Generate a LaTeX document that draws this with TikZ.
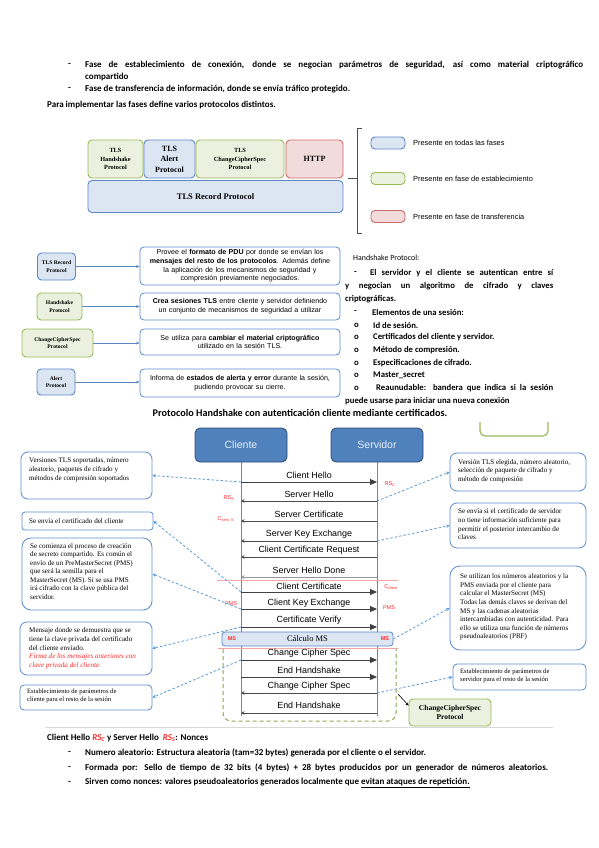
\documentclass[tikz,border=0pt]{standalone}
\usepackage{fontspec}
\setmainfont{Carlito}
\newfontfamily\arialf{Liberation Sans}
\newfontfamily\tnrf{Liberation Serif}
\usetikzlibrary{arrows.meta}
\newcommand\myfs[2]{\fontsize{#1}{#2}\selectfont}
\definecolor{bfill}{HTML}{DCE6F2}
\definecolor{bdraw}{HTML}{5B87C5}
\definecolor{gfill}{HTML}{EBF1DE}
\definecolor{gdraw}{HTML}{9BBB59}
\definecolor{rfill}{HTML}{F2DCDB}
\definecolor{rdraw}{HTML}{CF6A6A}
\definecolor{hdfill}{HTML}{4F81BD}
\definecolor{hddraw}{HTML}{2F4B73}
\definecolor{cblue}{HTML}{5B8BD0}
\definecolor{dblue}{HTML}{5B9BD5}
\definecolor{redline}{HTML}{F4A6A6}
\definecolor{gdash}{HTML}{8BA84A}
\definecolor{redtxt}{HTML}{FF2A2A}
\definecolor{lifegray}{HTML}{808080}
\begin{document}
\begin{tikzpicture}[x=1pt,y=-1pt,
  btxt/.style={anchor=west,inner sep=0pt,font=\bfseries\myfs{9}{11}},
  rtxt/.style={anchor=west,inner sep=0pt,font=\bfseries\myfs{8.7}{11}},
  bbox/.style={draw=bdraw,fill=bfill,rounded corners=4pt,line width=0.9pt,inner sep=1pt,align=center},
  gbox/.style={draw=gdraw,fill=gfill,rounded corners=4pt,line width=0.9pt,inner sep=1pt,align=center},
  rbox/.style={draw=rdraw,fill=rfill,rounded corners=4pt,line width=0.9pt,inner sep=1pt,align=center},
  desc/.style={draw=cblue,fill=white,rounded corners=4pt,line width=0.8pt,inner sep=1pt,align=center,
     text width=198pt,font=\arialf\myfs{7.1}{8.7}},
  stk/.style={font=\tnrf\bfseries\myfs{6.3}{8.6}},
  small/.style={font=\tnrf\bfseries\myfs{5.6}{7.5}},
  legtxt/.style={anchor=west,inner sep=0pt,font=\arialf\myfs{7.4}{8}},
  arr/.style={draw=bdraw,line width=0.6pt,-{Stealth[length=3.5pt,width=3pt]}},
  hd/.style={draw=hddraw,fill=hdfill,rounded corners=5pt,line width=0.8pt,text=white!88!hdfill,
     minimum width=92pt,minimum height=34pt,font=\arialf\myfs{10.5}{12}},
  life/.style={draw=lifegray,line width=1pt},
  msgR/.style={draw=black!75,line width=0.9pt,-{Triangle[length=7pt,width=6pt]}},
  msgL/.style={draw=black!70,line width=0.9pt,-{Stealth[length=3.5pt,width=3.5pt]}},
  mlab/.style={inner sep=0pt,font=\arialf\myfs{8.9}{10}},
  rlab/.style={inner sep=0pt,text=redtxt,font=\arialf\myfs{5.5}{6}},
  call/.style={draw=cblue,fill=white,rounded corners=7pt,line width=0.8pt},
  ctxt/.style={anchor=north west,inner sep=0pt,align=left,font=\tnrf\myfs{7.1}{8.7}},
  dasharr/.style={draw=dblue,line width=0.8pt,dash pattern=on 2.5pt off 2pt,-{Stealth[length=3.5pt,width=3.5pt]}},
  redl/.style={draw=redline,line width=0.6pt}
]
\useasboundingbox[fill=white] (0,0) rectangle (599,848);

% ---------------- top text
\node[btxt] (d1a) at (68,65) {-};
\node[btxt] (t1) at (85,65) {\makebox[498pt][s]{Fase de establecimiento de conexión, donde se negocian parámetros de seguridad, así como material criptográfico}};
\node[btxt] (t2) at (85,77) {compartido};
\node[btxt] (d1b) at (68,89) {-};
\node[btxt] (t3) at (85,89) {Fase de transferencia de información, donde se envía tráfico protegido.};
\node[btxt] (t4) at (47,105) {Para implementar las fases define varios protocolos distintos.};

% ---------------- protocol stack
\node[gbox,stk,minimum width=55pt,minimum height=38pt] (hsp) at (115.5,159) {TLS\\Handshake\\Protocol};
\node[bbox,font=\tnrf\bfseries\myfs{8}{10.5},minimum width=51pt,minimum height=38pt] (alp) at (169.5,159) {TLS\\Alert\\Protocol};
\node[gbox,stk,minimum width=88pt,minimum height=38pt] (ccp) at (240,159) {TLS\\ChangeCipherSpec\\Protocol};
\node[rbox,font=\tnrf\bfseries\myfs{8}{10},minimum width=57pt,minimum height=38pt] (http) at (314.5,159) {HTTP};
\node[bbox,font=\tnrf\bfseries\myfs{8.5}{10},minimum width=255pt,minimum height=32pt] (rec) at (215.5,196.5) {TLS Record Protocol};
\coordinate (brt) at (362,128);
\coordinate (brb) at (362,233);
\coordinate (brm) at (348,178);
\draw[black!70,line width=0.6pt] (brt) -- (357,128) -- (357,233) -- (brb);
\draw[black!70,line width=0.6pt] (brm) -- (357,178);

% legend
\node[bbox,minimum width=34pt,minimum height=12pt] (lg1) at (388,143) {};
\node[legtxt] (lt1) at (413,143) {Presente en todas las fases};
\node[gbox,minimum width=34pt,minimum height=12pt] (lg2) at (388,178.5) {};
\node[legtxt] (lt2) at (413,178.5) {Presente en fase de establecimiento};
\node[rbox,minimum width=34pt,minimum height=12pt] (lg3) at (388,216.5) {};
\node[legtxt] (lt3) at (413,216.5) {Presente en fase de transferencia};

% ---------------- protocol descriptions
\node[bbox,small,minimum width=38pt,minimum height=27pt] (rec2) at (56.5,266.5) {TLS Record\\Protocol};
\node[gbox,small,minimum width=45pt,minimum height=27pt] (hs2) at (59.5,306.5) {Handshake\\Protocol};
\node[gbox,small,minimum width=71pt,minimum height=28pt] (cc2) at (57.5,343) {ChangeCipherSpec\\Protocol};
\node[bbox,small,minimum width=38pt,minimum height=26pt] (al2) at (56,382) {Alert\\Protocol};

\node[desc,minimum width=200pt,minimum height=38pt] (de1) at (240,266) {Provee el \textbf{formato de PDU} por donde se envían los\\\textbf{mensajes del resto de los protocolos}. Además define\\la aplicación de los mecanismos de seguridad y\\compresión previamente negociados.};
\node[desc,minimum width=200pt,minimum height=27pt] (de2) at (240,306.5) {\textbf{Crea sesiones TLS} entre cliente y servidor definiendo\\un conjunto de mecanismos de seguridad a utilizar};
\node[desc,minimum width=200pt,minimum height=26pt] (de3) at (240,342) {Se utiliza para \textbf{cambiar el material criptográfico}\\utilizado en la sesión TLS.};
\node[desc,minimum width=200pt,minimum height=28pt] (de4) at (240,383) {Informa de \textbf{estados de alerta y error} durante la sesión,\\pudiendo provocar su cierre.};
\draw[arr] (rec2.east) -- (rec2.east -| de1.west);
\draw[arr] (hs2.east) -- (hs2.east -| de2.west);
\draw[arr] (cc2.east) -- (cc2.east -| de3.west);
\draw[arr] (al2.east) -- (al2.east -| de4.west);

% right text
\node[anchor=west,inner sep=0pt,font=\myfs{7.9}{10}] (hp) at (353,258) {Handshake Protocol:};
\node[rtxt] (m1) at (354,273) {-};
\node[rtxt] (r1) at (370,273) {\makebox[183pt][s]{El servidor y el cliente se autentican entre sí}};
\node[rtxt] (r2) at (345,286) {\makebox[208pt][s]{y negocian un algoritmo de cifrado y claves}};
\node[rtxt] (r3) at (345,299) {criptográficas.};
\node[rtxt] (m2) at (354,312) {-};
\node[rtxt] (r4) at (372,312) {Elementos de una sesión:};
\node[rtxt] (o1) at (354,325) {o};
\node[rtxt] (r5) at (373,325) {Id de sesión.};
\node[rtxt] (o2) at (354,337.5) {o};
\node[rtxt] (r6) at (373,337.5) {Certificados del cliente y servidor.};
\node[rtxt] (o3) at (354,350) {o};
\node[rtxt] (r7) at (373,350) {Método de compresión.};
\node[rtxt] (o4) at (354,363) {o};
\node[rtxt] (r8) at (373,363) {Especificaciones de cifrado.};
\node[rtxt] (o5) at (354,375.5) {o};
\node[rtxt] (r9) at (373,375.5) {Master\_secret};
\node[rtxt] (o6) at (354,388) {o};
\node[rtxt] (r10) at (376,388) {\makebox[177pt][s]{Reaunudable: bandera que indica si la sesión}};
\node[rtxt] (r11) at (345,401) {puede usarse para iniciar una nueva conexión};

% title
\node[inner sep=0pt,font=\bfseries\myfs{10.2}{12}] (ttl) at (300,413) {Protocolo Handshake con autenticación cliente mediante certificados.};
\draw[gdraw,line width=1.2pt,rounded corners=5pt] (480,422) -- (480,436) -- (548,436) -- (548,422);

% ---------------- sequence diagram
\node[hd] (cli) at (241,445) {Cliente};
\node[hd] (srv) at (377,445) {Servidor};
\coordinate (cend) at (241,716);
\coordinate (send) at (377,716);
\draw[life] (cli.south) -- (cend);
\draw[life] (srv.south) -- (send);

\draw[redl] (217,580) -- (398,580);
\draw[redl] (218,648) -- (398,648);
\draw[gdash,line width=1pt,dash pattern=on 4pt off 3pt,rounded corners=8pt] (223,649) -- (223,721) -- (396,721) -- (396,649);

\foreach \n/\ya/\yl/\t/\d in {1/482/475/Client Hello/R,2/501/494.5/Server Hello/L,3/521/514/Server Certificate/L,
  4/541/534/Server Key Exchange/L,5/557/550.5/Client Certificate Request/L,6/577/570/Server Hello Done/L,
  7/592/586/Client Certificate/R,8/609/603/Client Key Exchange/R,9/627/620/Certificate Verify/R,
  10/660/653/Change Cipher Spec/R,11/677/670/End Handshake/R,12/693/686/Change Cipher Spec/L,13/713/705/End Handshake/L}{
  \coordinate (c\n) at (241,\ya);
  \coordinate (s\n) at (377,\ya);
  \node[mlab] (lab\n) at (309,\yl) {\t};
}
\foreach \n in {1,7,8,9,10,11}{\draw[msgR] (c\n) -- (s\n);}
\foreach \n in {2,3,4,5,12,13}{\draw[msgL] (s\n) -- (c\n);}
\draw[msgL,draw=black!40] (s6) -- (c6);

\node[bbox,font=\tnrf\myfs{8.5}{9},minimum width=171pt,minimum height=14pt,rounded corners=3pt,line width=0.8pt] (ms) at (307.5,639) {Cálculo MS};
\node[rlab,font=\arialf\bfseries\myfs{5.5}{6}] (msl) at (232,639) {MS};
\node[rlab,font=\arialf\bfseries\myfs{5.5}{6}] (msr) at (385,639) {MS};

\node[rlab] (rsc) at (390,484) {RS\textsubscript{C}};
\node[rlab] (rss) at (229,498) {RS\textsubscript{S}};
\node[rlab] (cse) at (226,519) {C\textsubscript{serv. S}};
\node[rlab] (ccl) at (391,587) {C\textsubscript{client}};
\node[rlab] (pm1) at (231,604) {PMS};
\node[rlab] (pm2) at (389,608) {PMS};

\node[gbox,font=\tnrf\bfseries\myfs{7.5}{9},minimum width=82pt,minimum height=27pt] (ccs3) at (450,712.5) {ChangeCipherSpec\\Protocol};
\coordinate (gc) at (398,694);
\draw[black,line width=0.6pt,-{Stealth[length=3pt,width=3pt]}] (gc) -- ([yshift=-7pt]ccs3.north west);

% left callouts
\node[call,minimum width=131pt,minimum height=47pt] (L1) at (86.5,475.5) {};
\node[ctxt] (L1t) at (29,457.5) {Versiones TLS soportadas, número\\aleatorio, paquetes de cifrado y\\métodos de compresión soportados};
\node[call,rounded corners=3pt,minimum width=131pt,minimum height=18pt] (L2) at (87.5,521) {};
\node[ctxt,anchor=west] (L2t) at (29,521) {Se envía el certificado del cliente};
\node[call,rounded corners=9pt,minimum width=130pt,minimum height=72pt] (L3) at (87,574) {};
\node[ctxt,font=\tnrf\myfs{7.1}{8.5}] (L3t) at (30,543) {Se comienza el proceso de creación\\de secreto compartido. Es común el\\envío de un PreMasterSecret (PMS)\\que será la semilla para el\\MasterSecret (MS). Si se usa PMS\\irá cifrado con la clave pública del\\servidor.};
\node[call,minimum width=132pt,minimum height=53pt] (L4) at (86,648.5) {};
\node[ctxt] (L4t) at (29,627.5) {Mensaje donde se demuestra que se\\tiene la clave privada del certificado\\del cliente enviado.\\\textcolor{redtxt}{\itshape Firma de los mensajes anteriores con}\\\textcolor{redtxt}{\itshape clave privada del cliente.}};
\node[call,rounded corners=4pt,minimum width=132pt,minimum height=25pt] (L5) at (86,697.5) {};
\node[ctxt,font=\tnrf\myfs{6.6}{8}] (L5t) at (27,689) {Establecimiento de parámetros de\\cliente para el resto de la sesión};

\draw[dasharr] (c1) -- (L1.east);
\draw[dasharr] (c7) -- (L2.east);
\draw[dasharr] (c8) -- (L3.east);
\draw[dasharr] (c9) -- (L4.east);
\draw[dasharr] (c10) -- (L5.east);

% right callouts
\node[call,minimum width=136pt,minimum height=38pt] (R1) at (518,472) {};
\node[ctxt] (R1t) at (458,459) {Versión TLS elegida, número aleatorio,\\selección de paquete de cifrado y\\método de compresión};
\node[call,minimum width=136pt,minimum height=45pt] (R2) at (518,525.5) {};
\node[ctxt] (R2t) at (458,508.5) {Se envía si el certificado de servidor\\no tiene información suficiente para\\permitir el posterior intercambio de\\claves};
\node[call,rounded corners=10pt,minimum width=136pt,minimum height=84pt] (R3) at (518,608) {};
\node[ctxt,font=\tnrf\myfs{7.1}{8.6}] (R3t) at (460,573.5) {Se utilizan los números aleatorios y la\\PMS enviada por el cliente para\\calcular el MasterSecret (MS)\\Todas las demás claves se derivan del\\MS y las cadenas aleatorias\\intercambiadas con autenticidad. Para\\ello se utiliza una función de números\\pseudoaleatorios (PRF)};
\node[call,rounded corners=4pt,minimum width=133pt,minimum height=26pt] (R4) at (519.5,677) {};
\node[ctxt,font=\tnrf\myfs{6.6}{8}] (R4t) at (460,668.5) {Establecimiento de parámetros de\\servidor para el resto de la sesión};

\draw[dasharr] (s2) -- (R1.west);
\draw[dasharr] (s4) -- (R2.west);
\draw[dasharr] (ms.east) -- (R3.west);
\draw[dasharr] (s12) -- (R4.west);

% ---------------- bottom text
\coordinate (sepa) at (45,727);
\coordinate (sepb) at (553,727);
\draw[black!15,line width=0.6pt] (sepa) -- (sepb);
\node[btxt] (b0) at (47,738) {Client Hello \textcolor{redtxt}{\itshape RS\textsubscript{C}} y Server Hello \ \textcolor{redtxt}{\itshape RS\textsubscript{S}}: Nonces};
\node[btxt] (bd1) at (68,753) {-};
\node[btxt] (b1) at (85,753) {Numero aleatorio: Estructura aleatoria (tam=32 bytes) generada por el cliente o el servidor.};
\node[btxt] (bd2) at (68,768) {-};
\node[btxt] (b2) at (85,768) {\makebox[463pt][s]{Formada por: Sello de tiempo de 32 bits (4 bytes) + 28 bytes producidos por un generador de números aleatorios.}};
\node[btxt] (bd3) at (68,783) {-};
\node[btxt] (b3) at (85,783) {Sirven como nonces: valores pseudoaleatorios generados localmente que \underline{evitan ataques de repetición.}};
\end{tikzpicture}
\end{document}
